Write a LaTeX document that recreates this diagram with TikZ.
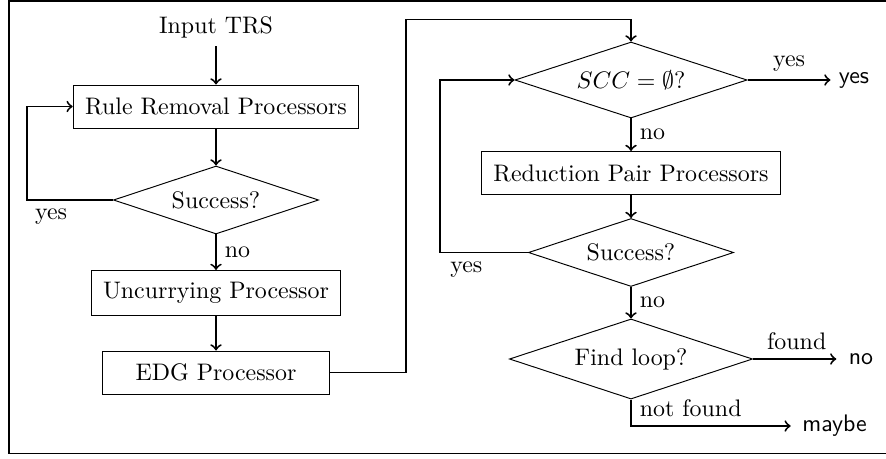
\documentclass[tikz,border=0pt]{standalone}
\usetikzlibrary{shapes.geometric,calc}
\begin{document}
\begin{tikzpicture}[x=0.4184pt,y=-0.4184pt,
  box/.style={draw,inner sep=5pt,minimum height=18pt},
  dec/.style={draw,diamond,inner sep=0pt,aspect=3},
  arr/.style={thick,->},
  outtxt/.style={font=\sffamily}]
\useasboundingbox (0,0) rectangle (886,458);
\draw[thick] (886,0.9) -- (9,0.9) -- (9,453.5) -- (886,453.5);
% left column
\node (in) at (216,27) {Input TRS};
\node[box] (rr) at (216,106.5) {Rule Removal Processors};
\node[dec,minimum width=85.8pt,minimum height=28.45pt] (d1) at (216,200) {Success?};
\node[box] (uc) at (216,293) {Uncurrying Processor};
\node[box,minimum width=95pt] (edg) at (216,372.5) {EDG Processor};
% right column
\node[dec,minimum width=97.1pt,minimum height=31.8pt] (scc) at (631,80) {$SCC = \emptyset$?};
\node[box] (rp) at (631,173) {Reduction Pair Processors};
\node[dec,minimum width=85.8pt,minimum height=28.45pt] (d2) at (631,252.5) {Success?};
\node[dec,minimum width=101.7pt,minimum height=33.5pt] (fl) at (631,359) {Find loop?};
\node[outtxt] (yesout) at (854,80) {yes};
\node[outtxt] (noout) at (861,359) {no};
\node[outtxt] (maybe) at (834.5,426) {maybe};
% connectors
\draw[arr] (in) -- (rr);
\draw[arr] (rr) -- (d1);
\draw[arr] (d1) -- node[right]{no} (uc);
\draw[arr] (uc) -- (edg);
\draw[arr] (d1.west) -- ++(-86,0) node[pos=0.72,below]{yes} |- (rr.west);
\draw[arr] (edg.east) -- ++(76,0) |- ($(scc.north)+(0,-22)$) -- (scc.north);
\draw[arr] (scc.east) -- node[above]{yes} (yesout.west);
\draw[arr] (scc) -- node[right]{no} (rp);
\draw[arr] (rp) -- (d2);
\draw[arr] (d2.west) -- ++(-88,0) node[pos=0.7,below]{yes} |- (scc.west);
\draw[arr] (d2) -- node[right]{no} (fl);
\draw[arr,shorten >=1.7pt] (fl.east) -- node[above]{found} (noout.west);
\draw[arr,shorten >=1.3pt] (fl.south) |- node[pos=0.5,above right]{not found} (maybe.west);
\end{tikzpicture}
\end{document}
